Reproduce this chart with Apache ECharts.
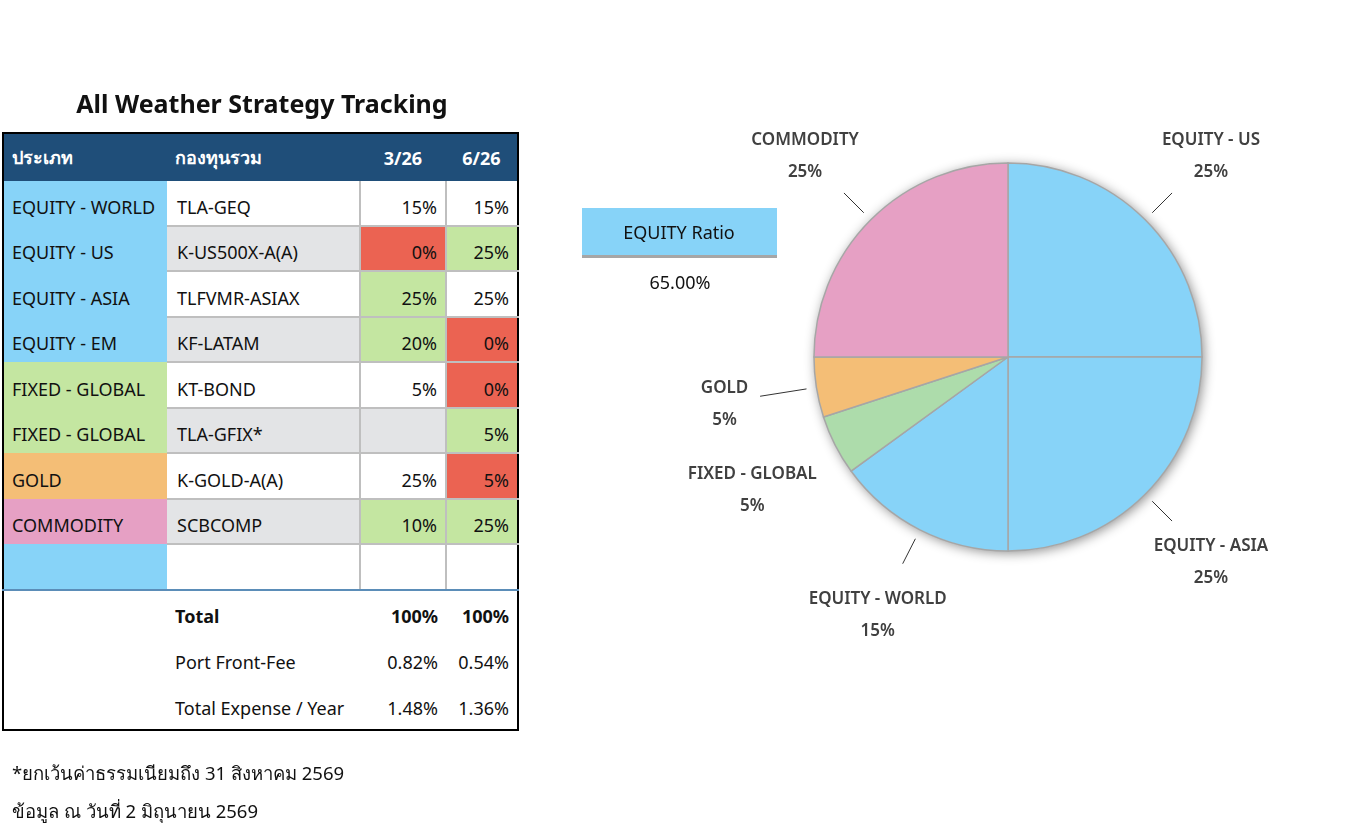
<!DOCTYPE html>
<html>
<head>
<meta charset="utf-8">
<title>All Weather Strategy Tracking</title>
<script src="https://cdn.jsdelivr.net/npm/echarts@6/dist/echarts.min.js"></script>
<style>
  body { margin: 0; background: #fff; font-family: "Noto Sans", "Open Sans", sans-serif; color: #111; }
  #main { position: absolute; left: 0; top: 0; width: 1366px; height: 836px; }
  #title { position: absolute; left: 0; top: 86px; width: 524px; text-align: center; font-size: 25px; font-weight: bold; }
  #tbl { position: absolute; left: 2px; top: 132px; border: 2px solid #000; border-collapse: collapse; table-layout: fixed; font-size: 18px; background: #fff; }
  #tbl td, #tbl th { padding: 0; white-space: nowrap; overflow: hidden; }
  #tbl th { background: #1F4E79; color: #fff; height: 47px; font-weight: bold; }
  #tbl th.l { text-align: left; }
  #tbl td { height: 35.5px; padding-top: 8px; }
  #tbl td.cat { padding-left: 8px; }
  #tbl td.fund { padding-left: 10px; }
  #tbl td.num { text-align: right; padding-right: 8px; }
  #tbl tr.data td.fund, #tbl tr.data td.num { border-bottom: 2px solid #BFBFBF; }
  #tbl tr.data td.num { border-left: 2px solid #BFBFBF; }
  #tbl tr.last td { border-bottom: 2px solid #5B8DB8 !important; }
  #tbl tr.foot td { height: 42px; padding-top: 4px; }
  #tbl tr.foot td.fund { padding-left: 8px; }
  .bold { font-weight: bold; }
  .note { position: absolute; left: 12px; font-size: 18.5px; }
</style>
</head>
<body>
<div id="main"></div>
<div id="title">All Weather Strategy Tracking</div>
<table id="tbl"></table>
<div class="note" style="top:759px">*ยกเว้นค่าธรรมเนียมถึง 31 สิงหาคม 2569</div>
<div class="note" style="top:797px">ข้อมูล ณ วันที่ 2 มิถุนายน 2569</div>
<script>
// table data
const headers = ['ประเภท', 'กองทุนรวม', '3/26', '6/26'];
const categories = ['EQUITY - WORLD', 'EQUITY - US', 'EQUITY - ASIA', 'EQUITY - EM', 'FIXED - GLOBAL', 'FIXED - GLOBAL', 'GOLD', 'COMMODITY', ''];
const assetClass = ['EQUITY', 'EQUITY', 'EQUITY', 'EQUITY', 'FIXED', 'FIXED', 'GOLD', 'COMMODITY', 'EQUITY'];
const funds = ['TLA-GEQ', 'K-US500X-A(A)', 'TLFVMR-ASIAX', 'KF-LATAM', 'KT-BOND', 'TLA-GFIX*', 'K-GOLD-A(A)', 'SCBCOMP', ''];
const weightMar = [15, 0, 25, 20, 5, null, 25, 10, null];
const weightJun = [15, 25, 25, 0, 0, 5, 5, 25, null];
const flagMar = ['', 'down', 'up', 'up', '', 'na', '', 'up', ''];
const flagJun = ['', 'up', '', 'down', 'down', 'up', 'down', 'up', ''];
const footLabels = ['Total', 'Port Front-Fee', 'Total Expense / Year'];
const footMar = ['100%', '0.82%', '1.48%'];
const footJun = ['100%', '0.54%', '1.36%'];

// pie data (6/26 allocation)
const pieNames = ['EQUITY - US', 'EQUITY - ASIA', 'EQUITY - WORLD', 'FIXED - GLOBAL', 'GOLD', 'COMMODITY'];
const pieValues = [25, 25, 15, 5, 5, 25];

const classColor = { EQUITY: '#87D3F8', FIXED: '#C4E6A1', GOLD: '#F4BE76', COMMODITY: '#E6A0C4' };
const flagColor = { up: '#C4E6A1', down: '#EB6352', na: '#E3E4E6', '': '' };
const pieColor = { 'EQUITY - US': '#87D3F8', 'EQUITY - ASIA': '#87D3F8', 'EQUITY - WORLD': '#87D3F8',
  'FIXED - GLOBAL': '#ADDCAB', 'GOLD': '#F4BE76', 'COMMODITY': '#E6A0C4' };

// build table
const tbl = document.getElementById('tbl');
const colW = [164, 193, 86, 72];
let html = '<colgroup>' + colW.map(w => '<col style="width:' + w + 'px">').join('') + '</colgroup>';
html += '<tr>' + headers.map((h, i) =>
  '<th class="' + (i < 2 ? 'l' : '') + '" style="padding-left:' + (i < 2 ? 8 : 0) + 'px">' + h + '</th>').join('') + '</tr>';
const pct = v => (v === null ? '' : v + '%');
categories.forEach((c, i) => {
  const stripe = i % 2 === 1 ? '#E3E4E6' : '#fff';
  const last = i === categories.length - 1 ? ' last' : '';
  html += '<tr class="data' + last + '">' +
    '<td class="cat" style="background:' + classColor[assetClass[i]] + '">' + c + '</td>' +
    '<td class="fund" style="background:' + stripe + '">' + funds[i] + '</td>' +
    '<td class="num" style="background:' + (flagColor[flagMar[i]] || '#fff') + '">' + pct(weightMar[i]) + '</td>' +
    '<td class="num" style="background:' + (flagColor[flagJun[i]] || '#fff') + '">' + pct(weightJun[i]) + '</td></tr>';
});
footLabels.forEach((f, i) => {
  const b = i === 0 ? ' bold' : '';
  html += '<tr class="foot"><td></td><td class="fund' + b + '">' + f + '</td>' +
    '<td class="num' + b + '">' + footMar[i] + '</td><td class="num' + b + '">' + footJun[i] + '</td></tr>';
});
tbl.innerHTML = html;

// pie
var myChart = echarts.init(document.getElementById('main'));
const fontFamily = '"Noto Sans", "Open Sans", sans-serif';
const total = pieValues.reduce((a, b) => a + b, 0);
const equity = pieValues.filter((v, i) => pieNames[i].indexOf('EQUITY') === 0).reduce((a, b) => a + b, 0);
const leader = { 'GOLD': 47, 'FIXED - GLOBAL': 0 };

var option = {
  animation: false,
  graphic: [
    { type: 'rect', left: 582, top: 208, shape: { width: 195, height: 48 }, style: { fill: '#87D3F8' }, silent: true },
    { type: 'rect', left: 582, top: 255, shape: { width: 195, height: 3 }, style: { fill: '#A6A6A6' }, silent: true },
    { type: 'text', style: { text: 'EQUITY Ratio', x: 679, y: 234, align: 'center', verticalAlign: 'middle', fontSize: 18, fill: '#111', fontFamily: fontFamily } },
    { type: 'text', style: { text: (equity / total * 100).toFixed(2) + '%', x: 680, y: 284, align: 'center', verticalAlign: 'middle', fontSize: 18, fill: '#111', fontFamily: fontFamily } }
  ],
  series: [
    {
      // soft shadow under the pie
      type: 'pie', center: [1008, 357], radius: 194, silent: true,
      label: { show: false }, labelLine: { show: false },
      itemStyle: { color: '#ffffff', borderWidth: 0, shadowBlur: 12, shadowColor: 'rgba(0,0,0,0.45)', shadowOffsetX: 2, shadowOffsetY: 2 },
      data: [{ name: 'bg', value: 1 }]
    },
    {
      type: 'pie', center: [1008, 357], radius: 194, startAngle: 90, clockwise: true,
      avoidLabelOverlap: false, silent: true,
      data: pieNames.map((n, i) => ({ name: n, value: pieValues[i], itemStyle: { color: pieColor[n] } })),
      itemStyle: { borderColor: '#A6A6A6', borderWidth: 1.5 },
      label: { formatter: '{b}\n{c}%', fontSize: 17, lineHeight: 32, color: '#404040', fontWeight: 600, fontFamily: fontFamily },
      labelLine: { show: true, length: 28, length2: 0, lineStyle: { color: '#333', width: 1 } },
      labelLayout: function (p) {
        const pts = p.labelLinePoints;
        if (!pts) return {};
        const dx = pts[1][0] - pts[0][0], dy = pts[1][1] - pts[0][1];
        const d = Math.sqrt(dx * dx + dy * dy) || 1;
        const ux = dx / d, uy = dy / d;
        const name = pieNames[p.dataIndex];
        const len = leader[name] !== undefined ? leader[name] : 28;
        const s = [pts[0][0] + ux * 10, pts[0][1] + uy * 10];
        const e = [pts[0][0] + ux * (10 + len), pts[0][1] + uy * (10 + len)];
        return {
          x: pts[0][0] + ux * 93, y: pts[0][1] + uy * 93 + 2.5,
          align: 'center', verticalAlign: 'middle',
          labelLinePoints: [s, e, e]
        };
      }
    }
  ]
};
option && myChart.setOption(option);
</script>
</body>
</html>
